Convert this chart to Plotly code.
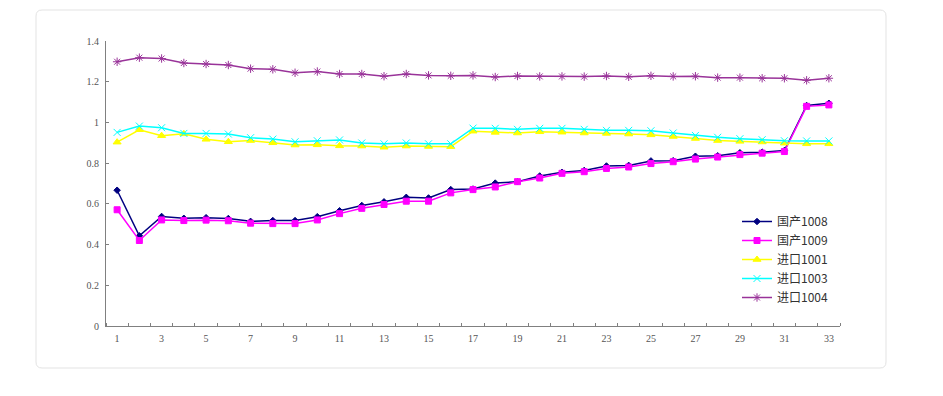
import plotly.graph_objects as go

categories = list(range(1, 34))

guochan_1008 = [0.667, 0.443, 0.538, 0.529, 0.532, 0.528, 0.514, 0.518, 0.518, 0.537,
                0.566, 0.592, 0.610, 0.632, 0.629, 0.670, 0.673, 0.702, 0.709, 0.737,
                0.755, 0.764, 0.786, 0.789, 0.811, 0.812, 0.834, 0.836, 0.851, 0.854,
                0.862, 1.083, 1.094]
guochan_1009 = [0.571, 0.420, 0.521, 0.518, 0.520, 0.517, 0.505, 0.503, 0.503, 0.521,
                0.552, 0.578, 0.597, 0.613, 0.613, 0.654, 0.670, 0.683, 0.709, 0.727,
                0.750, 0.758, 0.774, 0.781, 0.798, 0.807, 0.820, 0.830, 0.842, 0.849,
                0.857, 1.079, 1.086]
jinkou_1001 = [0.903, 0.964, 0.935, 0.944, 0.917, 0.905, 0.911, 0.900, 0.889, 0.890,
               0.885, 0.884, 0.878, 0.884, 0.882, 0.881, 0.957, 0.951, 0.948, 0.954,
               0.952, 0.948, 0.946, 0.943, 0.939, 0.931, 0.921, 0.911, 0.907, 0.904,
               0.898, 0.895, 0.895]
jinkou_1003 = [0.951, 0.982, 0.974, 0.946, 0.946, 0.943, 0.925, 0.918, 0.905, 0.910,
               0.914, 0.899, 0.895, 0.899, 0.895, 0.895, 0.972, 0.971, 0.966, 0.971,
               0.971, 0.966, 0.961, 0.961, 0.959, 0.948, 0.936, 0.927, 0.920, 0.915,
               0.910, 0.909, 0.909]
jinkou_1004 = [1.298, 1.318, 1.314, 1.292, 1.287, 1.282, 1.264, 1.261, 1.244, 1.250,
               1.238, 1.238, 1.227, 1.238, 1.231, 1.229, 1.231, 1.223, 1.228, 1.226,
               1.226, 1.225, 1.228, 1.224, 1.229, 1.226, 1.227, 1.220, 1.220, 1.217,
               1.217, 1.207, 1.217]

x_ticks = list(range(1, 34, 2))
y_ticks = [0, 0.2, 0.4, 0.6, 0.8, 1.0, 1.2, 1.4]
y_tick_text = ["0", "0.2", "0.4", "0.6", "0.8", "1", "1.2", "1.4"]

series = [
    ("国产1008", guochan_1008, "#000080", "diamond", 5),
    ("国产1009", guochan_1009, "#FF00FF", "square", 6),
    ("进口1001", jinkou_1001, "#FFFF00", "triangle-up", 7),
    ("进口1003", jinkou_1003, "#00FFFF", "x-thin-open", 7),
    ("进口1004", jinkou_1004, "#993399", "asterisk-open", 7),
]

fig = go.Figure()
for name, vals, color, sym, size in series:
    fig.add_trace(go.Scatter(
        x=categories, y=vals, name=name, mode="lines+markers",
        line=dict(color=color, width=1.5),
        marker=dict(symbol=sym, size=size, color=color,
                    line=dict(color=color, width=1)),
    ))

# page body has an 8px margin, so figure coordinates = screen - 8
OFF = 8
W, H = 927, 380
L = 106 - OFF
T = 41 - OFF
pw = 840 - 106
ph = 326 - 41
R = W - L - pw
B = H - T - ph


def px_x(p):
    return (p - OFF - L) / pw


def px_y(p):
    return (H - B - (p - OFF)) / ph


# rounded card
x0, x1 = px_x(36), px_x(886)
y0, y1 = px_y(368), px_y(10)
rx = 6 / pw
ry = 6 / ph
path = (f"M {x0+rx},{y1} L {x1-rx},{y1} Q {x1},{y1} {x1},{y1-ry} "
        f"L {x1},{y0+ry} Q {x1},{y0} {x1-rx},{y0} L {x0+rx},{y0} "
        f"Q {x0},{y0} {x0},{y0+ry} L {x0},{y1-ry} Q {x0},{y1} {x0+rx},{y1} Z")
fig.add_shape(type="path", path=path, xref="paper", yref="paper",
              line=dict(color="#e3e3e3", width=1), fillcolor="rgba(0,0,0,0)",
              layer="below")

tick_font = dict(family="Liberation Serif, serif", size=10, color="#555555")

fig.update_layout(
    width=W, height=H,
    margin=dict(l=L, r=R, t=T, b=B),
    paper_bgcolor="white", plot_bgcolor="white",
    showlegend=True,
    legend=dict(x=px_x(737), y=px_y(207), xanchor="left", yanchor="top",
                font=dict(family="Noto Sans CJK SC, sans-serif", size=12, color="#333333"),
                bgcolor="rgba(0,0,0,0)", itemwidth=30, tracegroupgap=0),
    xaxis=dict(range=[0.5, 33.5], tickmode="array", tickvals=x_ticks,
               ticktext=[str(v) for v in x_ticks], ticks="", showgrid=False,
               zeroline=False, showline=True, linecolor="#808080", linewidth=1,
               tickfont=tick_font, ticklabelstandoff=3,
               minor=dict(tickmode="array", tickvals=[v + 0.5 for v in range(0, 34)],
                          ticks="inside", ticklen=3, tickcolor="#808080",
                          showgrid=False)),
    yaxis=dict(range=[0, 1.4], tickmode="array", tickvals=y_ticks,
               ticktext=y_tick_text, ticks="inside", ticklen=3,
               tickcolor="#808080", showgrid=False, zeroline=False,
               showline=True, linecolor="#808080", linewidth=1,
               tickfont=tick_font, ticklabelstandoff=4),
)

fig.write_html("out.html")
